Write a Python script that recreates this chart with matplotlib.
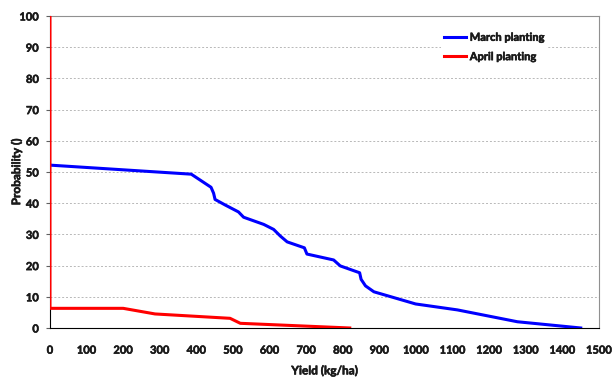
import numpy as np
import matplotlib.pyplot as plt
import matplotlib.patheffects as pe

# yield (kg/ha) vs exceedance probability
march_yield = [0, 386, 440, 447, 451, 479, 515, 529, 584, 611, 629, 648, 695, 702,
               775, 793, 846, 850, 862, 885, 999, 1113, 1277, 1450]
march_prob = [52.2, 49.3, 45.1, 43.2, 41.2, 39.4, 37.2, 35.5, 33.2, 31.6, 29.5, 27.6,
              25.7, 23.7, 21.8, 19.9, 17.7, 15.6, 13.5, 11.6, 7.7, 5.8, 2.0, 0]

april_yield = [0, 0, 200, 287, 492, 520, 739, 819]
april_prob = [100, 6.3, 6.3, 4.5, 3.1, 1.5, 0.4, 0]

plt.rcParams['font.family'] = 'Lato'
plt.rcParams['font.weight'] = 'bold'

fig = plt.figure(figsize=(6.14, 3.78), dpi=100)
ax = fig.add_axes([0.0814, 0.1323, 0.8942, 0.8254])

ax.plot(march_yield, march_prob, c='#0000ff', lw=2.2, label='March planting', zorder=3)
ax.plot(april_yield, april_prob, c='#ff0000', lw=2.2, label='April planting', zorder=3)

ax.set_xlim(0, 1500)
ax.set_ylim(0, 100)
ax.set_xticks(np.arange(0, 1501, 100))
ax.set_yticks(np.arange(0, 101, 10))
ax.tick_params(labelsize=8)
ax.tick_params(axis='x', length=0, pad=12)
ax.tick_params(axis='y', length=3, width=0.8, color='#606060', pad=5)

ax.grid(axis='y', ls=(0, (2, 2)), c='#b8b8b8', lw=0.7)
for s in ['top', 'right']:
    ax.spines[s].set_color('#909090')
ax.spines['bottom'].set_color('black')
ax.spines['left'].set_color('black')

ax.set_xlabel('Yield (kg/ha)', fontsize=8.5, fontweight='bold', labelpad=7)
ax.set_ylabel('Probability ()', fontsize=8.5, fontweight='bold', labelpad=-2)

leg = ax.legend(loc='upper left', bbox_to_anchor=(0.712, 0.96), frameon=True,
                fontsize=8, handlelength=2.0, handletextpad=0.3,
                borderpad=0.3, labelspacing=0.75, borderaxespad=0)
leg.get_frame().set_linewidth(0)
leg.get_frame().set_alpha(1)
leg.get_frame().set_boxstyle('square', pad=0)

# heavier strokes on all the text
thick = [pe.withStroke(linewidth=0.4, foreground='#1a1a1a')]
texts = ax.get_xticklabels() + ax.get_yticklabels() + leg.get_texts()
texts += [ax.xaxis.label, ax.yaxis.label]
for t in texts:
    t.set_color('#1a1a1a')
    t.set_path_effects(thick)

fig.savefig('out.png', dpi=100)
